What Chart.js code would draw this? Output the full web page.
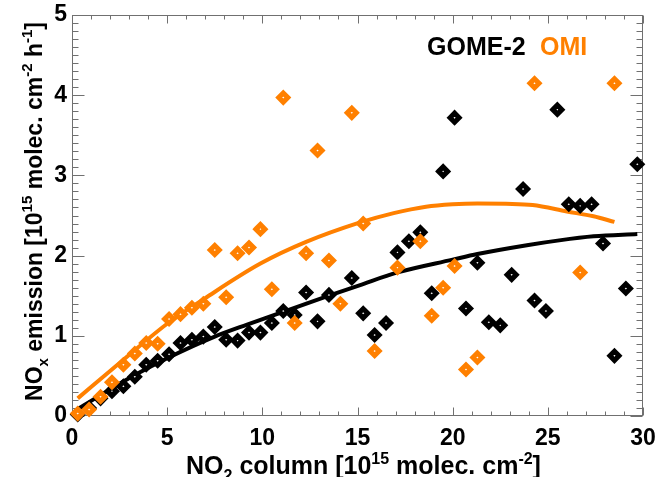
<!DOCTYPE html>
<html><head><meta charset="utf-8">
<script src="https://cdn.jsdelivr.net/npm/chart.js@4/dist/chart.umd.min.js"></script>
<style>html,body{margin:0;padding:0;background:#fff;overflow:hidden}#wrap{width:659px;height:477px}</style>
</head><body><div id="wrap"><canvas id="c" width="659" height="477"></canvas></div>
<script>
// ---- data ----
const gomeX = [0.3,0.9,1.5,2.1,2.7,3.3,3.9,4.5,5.1,5.7,6.3,6.9,7.5,8.1,8.7,9.3,9.9,10.5,11.1,11.7,12.3,12.9,13.5,14.7,15.3,15.9,16.5,17.1,17.7,18.3,18.9,19.5,20.1,20.7,21.3,21.9,22.5,23.1,23.7,24.3,24.9,25.5,26.1,26.7,27.3,27.9,28.5,29.1,29.7];
const gomeY = [0.02,0.10,0.22,0.31,0.37,0.49,0.64,0.69,0.77,0.91,0.95,0.99,1.11,0.95,0.94,1.04,1.04,1.16,1.31,1.26,1.54,1.18,1.51,1.72,1.28,1.01,1.16,2.04,2.18,2.29,1.53,3.05,3.72,1.34,1.91,1.17,1.13,1.76,2.83,1.44,1.31,3.82,2.64,2.62,2.64,2.15,0.75,1.59,3.14];
const omiX = [0.3,0.9,1.5,2.1,2.7,3.3,3.9,4.5,5.1,5.7,6.3,6.9,7.5,8.1,8.7,9.3,9.9,10.5,11.1,11.7,12.3,12.9,13.5,14.1,14.7,15.3,15.9,17.1,18.3,18.9,19.5,20.1,20.7,21.3,24.3,26.7,28.5];
const omiY = [0.03,0.08,0.24,0.42,0.64,0.78,0.91,0.90,1.21,1.27,1.35,1.40,2.07,1.48,2.03,2.10,2.33,1.58,3.97,1.16,2.03,3.31,1.94,1.40,3.78,2.40,0.81,1.85,2.18,1.25,1.60,1.87,0.58,0.73,4.15,1.79,4.15];
const gomeFitX = [0.2,1.5,3.3,5.0,7.5,9.2,11.1,13.5,15.1,17.1,20.0,21.3,23.9,25.6,27.4,29.7];
const gomeFitY = [0.07,0.26,0.51,0.72,0.99,1.14,1.30,1.50,1.63,1.79,1.95,2.02,2.13,2.19,2.24,2.27];
const omiFitX = [0.3,2.5,5.0,7.0,9.9,12.3,15.1,16.9,18.6,20.0,21.3,22.8,24.2,26.0,27.4,28.5];
const omiFitY = [0.22,0.66,1.15,1.47,1.90,2.17,2.41,2.53,2.61,2.64,2.65,2.645,2.63,2.55,2.49,2.42];
const xTickValues = [0,5,10,15,20,25,30];
const yTickValues = [0,1,2,3,4,5];
const seriesNames = ['GOME-2','OMI'];

const FAMILY = "'Liberation Sans', Arial, Helvetica, sans-serif";
const BLACK = '#000000', ORANGE = '#ff8000', AXIS = '#707070';
const FS = 23;

const xTitle = [{t:'NO'},{t:'2',k:'sub'},{t:' column [10'},{t:'15',k:'sup'},{t:' molec. cm'},{t:'-2',k:'sup'},{t:']'}];
const yTitle = [{t:'NO'},{t:'x',k:'sub'},{t:' emission [10'},{t:'15',k:'sup'},{t:' molec. cm'},{t:'-2',k:'sup'},{t:' h'},{t:'-1',k:'sup'},{t:']'}];

function richText(ctx, segs, cx, y, size, color) {
  const small = Math.round(size * 0.64);
  const fonts = segs.map(s => `bold ${s.k ? small : size}px ${FAMILY}`);
  let total = 0;
  const w = segs.map((s, i) => { ctx.font = fonts[i]; const m = ctx.measureText(s.t).width; total += m; return m; });
  let x = cx - total / 2;
  ctx.fillStyle = color;
  ctx.textBaseline = 'alphabetic';
  ctx.textAlign = 'left';
  segs.forEach((s, i) => {
    ctx.font = fonts[i];
    const dy = s.k === 'sub' ? size * 0.26 : (s.k === 'sup' ? -size * 0.42 : 0);
    ctx.fillText(s.t, x, y + dy);
    x += w[i];
  });
}

const frame = {
  id: 'frame',
  beforeDatasetsDraw(chart) {
    const {ctx, chartArea: a, scales: {x, y}} = chart;
    ctx.save();
    ctx.strokeStyle = AXIS;
    ctx.lineWidth = 1;
    const L = Math.round(a.left) + 0.5, R = Math.round(a.right) - 0.5;
    const T = Math.round(a.top) + 0.5, B = Math.round(a.bottom) - 0.5;
    ctx.strokeRect(L, T, R - L, B - T);
    ctx.beginPath();
    for (let i = 0; i <= 30; i++) {
      const px = Math.round(x.getPixelForValue(i)) + 0.5;
      const len = i % 5 === 0 ? 8 : 4;
      ctx.moveTo(px, B); ctx.lineTo(px, B - len);
      ctx.moveTo(px, T); ctx.lineTo(px, T + len);
    }
    for (let i = 0; i <= 50; i++) {
      const py = Math.round(y.getPixelForValue(i / 10)) + 0.5;
      const len = i % 10 === 0 ? 12 : 6;
      ctx.moveTo(L, py); ctx.lineTo(L + len, py);
      ctx.moveTo(R, py); ctx.lineTo(R - len, py);
    }
    ctx.stroke();
    ctx.restore();
  },
  afterDraw(chart) {
    const {ctx, chartArea: a} = chart;
    ctx.save();
    richText(ctx, xTitle, (a.left + a.right) / 2 + 6, 474, 25, BLACK);
    ctx.translate(42, (a.top + a.bottom) / 2 - 4);
    ctx.rotate(-Math.PI / 2);
    richText(ctx, yTitle, 0, 0, FS, BLACK);
    ctx.restore();
    ctx.save();
    ctx.font = `bold 25px ${FAMILY}`;
    ctx.textBaseline = 'alphabetic';
    ctx.textAlign = 'left';
    ctx.fillStyle = BLACK;
    ctx.fillText(seriesNames[0], 427, 55);
    ctx.fillStyle = ORANGE;
    ctx.fillText(seriesNames[1], 540, 55);
    ctx.restore();
  }
};

const pts = (xs, ys) => xs.map((v, i) => ({x: v, y: ys[i]}));

new Chart(document.getElementById('c'), {
  type: 'scatter',
  data: {
    datasets: [
      {label: seriesNames[1], data: pts(omiX, omiY), order: 0, clip: false,
       pointStyle: 'rectRot', pointRadius: 4.5, pointBorderWidth: 5,
       borderColor: ORANGE, backgroundColor: '#ffffff', pointHoverRadius: 4.5},
      {label: seriesNames[0], data: pts(gomeX, gomeY), order: 1, clip: false,
       pointStyle: 'rectRot', pointRadius: 4.5, pointBorderWidth: 5,
       borderColor: BLACK, backgroundColor: '#ffffff', pointHoverRadius: 4.5},
      {label: 'OMI fit', data: pts(omiFitX, omiFitY), order: 2, showLine: true,
       pointRadius: 0, borderWidth: 4, borderColor: ORANGE, cubicInterpolationMode: 'monotone', fill: false},
      {label: 'GOME-2 fit', data: pts(gomeFitX, gomeFitY), order: 3, showLine: true,
       pointRadius: 0, borderWidth: 4, borderColor: BLACK, cubicInterpolationMode: 'monotone', fill: false}
    ]
  },
  options: {
    responsive: false,
    animation: false,
    devicePixelRatio: 1,
    layout: {padding: {top: 15, right: 16, left: 0, bottom: 0}},
    plugins: {legend: {display: false}, tooltip: {enabled: false}},
    scales: {
      x: {
        type: 'linear', min: 0, max: 30,
        afterFit: s => { s.height = 61; s.paddingLeft = 0; s.paddingRight = 0; },
        afterBuildTicks: s => { s.ticks = xTickValues.map(v => ({value: v})); },
        grid: {display: false, drawTicks: false},
        border: {display: false},
        ticks: {color: BLACK, padding: 9, maxRotation: 0, font: {family: FAMILY, size: FS, weight: 'bold'}}
      },
      y: {
        type: 'linear', min: 0, max: 5,
        afterFit: s => { s.width = 72; s.paddingTop = 0; s.paddingBottom = 0; },
        afterBuildTicks: s => { s.ticks = yTickValues.map(v => ({value: v})); },
        grid: {display: false, drawTicks: false},
        border: {display: false},
        ticks: {color: BLACK, padding: 5, font: {family: FAMILY, size: FS, weight: 'bold'}}
      }
    }
  },
  plugins: [frame]
});
</script>
</body></html>
